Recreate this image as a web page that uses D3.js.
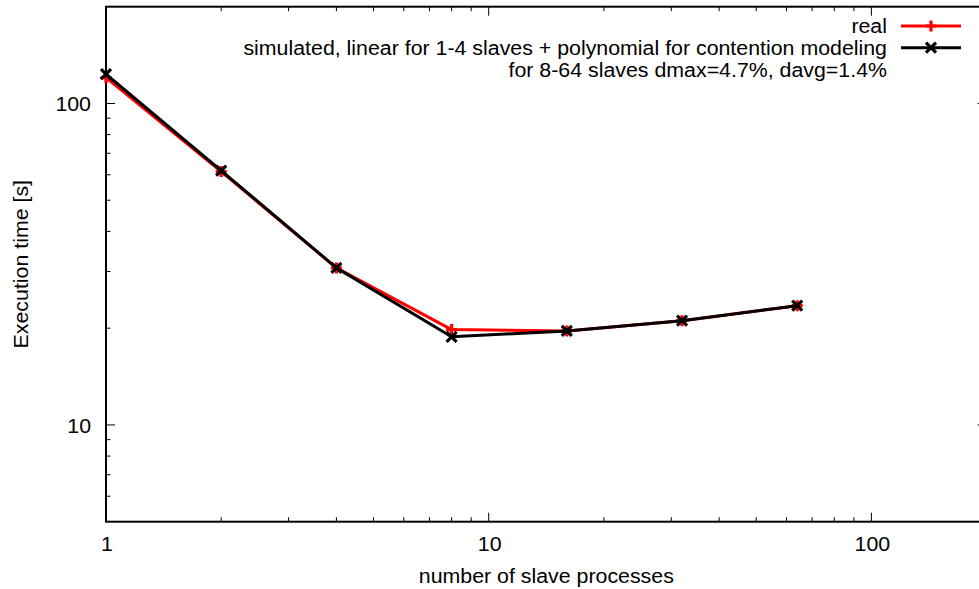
<!DOCTYPE html>
<html><head><meta charset="utf-8">
<script src="https://cdn.jsdelivr.net/npm/d3@7"></script>
<style>body{margin:0;background:#fff}svg{display:block}text{font-family:"Liberation Sans",Arial,sans-serif;fill:#000}</style>
</head><body>
<svg id="c" width="979" height="589"></svg>
<script>
const slaves = [1, 2, 4, 8, 16, 32, 64];
const realTimes = [120.3, 61.4, 30.8, 19.8, 19.6, 21.1, 23.5];
const simTimes = [123.3, 61.8, 30.8, 18.8, 19.6, 21.1, 23.5];
const seriesNames = ["real", "simulated, linear for 1-4 slaves + polynomial for contention modeling"];
const noteText = "for 8-64 slaves dmax=4.7%, davg=1.4%";
const xTicks = [1, 10, 100];
const yTicks = [10, 100];
const xLabel = "number of slave processes";
const yLabel = "Execution time [s]";

const svg = d3.select("#c");
const L = 106, R = 986.6, T = 6.7, B = 521.7;
const x = d3.scaleLog().domain([1, 200]).range([L, R]);
const y = d3.scaleLog().domain([5, 200]).range([B, T]);
const FS = 19.5, SX = 1.095;

function txt(sel, tx, ty, s, anchor, rot) {
  return sel.append("text")
    .attr("transform", `translate(${tx},${ty})${rot ? " rotate(" + rot + ")" : ""} scale(${SX},1)`)
    .attr("text-anchor", anchor).attr("font-size", FS).text(s);
}
function minors(dom) {
  const out = [];
  for (let e = -1; e < 4; e++) for (let m = 2; m <= 9; m++) {
    const v = m * Math.pow(10, e);
    if (v > dom[0] && v < dom[1]) out.push(v);
  }
  return out;
}
const g = svg.append("g");
// ticks
const tk = g.append("g").attr("stroke", "#000").attr("stroke-width", 1);
xTicks.forEach(v => {
  tk.append("line").attr("x1", x(v)).attr("x2", x(v)).attr("y1", B).attr("y2", B - 9);
  tk.append("line").attr("x1", x(v)).attr("x2", x(v)).attr("y1", T).attr("y2", T + 9);
});
minors(x.domain()).forEach(v => {
  tk.append("line").attr("x1", x(v)).attr("x2", x(v)).attr("y1", B).attr("y2", B - 4.5);
  tk.append("line").attr("x1", x(v)).attr("x2", x(v)).attr("y1", T).attr("y2", T + 4.5);
});
yTicks.forEach(v => {
  tk.append("line").attr("y1", y(v)).attr("y2", y(v)).attr("x1", L).attr("x2", L + 9);
  tk.append("line").attr("y1", y(v)).attr("y2", y(v)).attr("x1", R).attr("x2", R - 9);
});
minors(y.domain()).forEach(v => {
  tk.append("line").attr("y1", y(v)).attr("y2", y(v)).attr("x1", L).attr("x2", L + 4.5);
  tk.append("line").attr("y1", y(v)).attr("y2", y(v)).attr("x1", R).attr("x2", R - 4.5);
});
// frame
g.append("rect").attr("x", L).attr("y", T).attr("width", R - L).attr("height", B - T)
  .attr("fill", "none").attr("stroke", "#000").attr("stroke-width", 2);
// tick labels
xTicks.forEach(v => txt(g, x(v) + 1, 550.7, d3.format("d")(v), "middle"));
yTicks.forEach(v => txt(g, L - 15, y(v) + 7.7, d3.format("d")(v), "end"));
// axis labels
txt(g, (L + R) / 2, 582.7, xLabel, "middle");
txt(g, 28, (T + B) / 2, yLabel, "middle", -90);

// series
const line = d3.line().x(d => x(d[0])).y(d => y(d[1]));
const realPts = slaves.map((s, i) => [s, realTimes[i]]);
const simPts = slaves.map((s, i) => [s, simTimes[i]]);
function plus(sel, cx, cy, col) {
  sel.append("path").attr("d", `M${cx - 5.5},${cy}H${cx + 5.5}M${cx},${cy - 5.5}V${cy + 5.5}`)
    .attr("stroke", col).attr("stroke-width", 3.2).attr("fill", "none");
}
function cross(sel, cx, cy, col) {
  sel.append("path").attr("d", `M${cx - 5},${cy - 5}L${cx + 5},${cy + 5}M${cx - 5},${cy + 5}L${cx + 5},${cy - 5}`)
    .attr("stroke", col).attr("stroke-width", 3.2).attr("fill", "none");
}
const ds = g.append("g");
ds.append("path").datum(realPts).attr("d", line).attr("fill", "none").attr("stroke", "#ff0000").attr("stroke-width", 3).attr("stroke-linejoin", "round");
realPts.forEach(p => plus(ds, x(p[0]), y(p[1]), "#ff0000"));
ds.append("path").datum(simPts).attr("d", line).attr("fill", "none").attr("stroke", "#000").attr("stroke-width", 3).attr("stroke-linejoin", "round");
simPts.forEach(p => cross(ds, x(p[0]), y(p[1]), "#000"));

// legend
const lx = 887, sx1 = 901, sx2 = 961;
const lg = g.append("g");
const rows = [26, 47.7, 69];
txt(lg, lx, rows[0] + 7.3, seriesNames[0], "end");
lg.append("line").attr("x1", sx1).attr("x2", sx2).attr("y1", rows[0]).attr("y2", rows[0]).attr("stroke", "#ff0000").attr("stroke-width", 3);
plus(lg, (sx1 + sx2) / 2, rows[0], "#ff0000");
txt(lg, lx, rows[1] + 7.6, seriesNames[1], "end");
lg.append("line").attr("x1", sx1).attr("x2", sx2).attr("y1", rows[1]).attr("y2", rows[1]).attr("stroke", "#000").attr("stroke-width", 3);
cross(lg, (sx1 + sx2) / 2, rows[1], "#000");
txt(lg, lx, rows[2] + 7.6, noteText, "end");
</script>
</body></html>
